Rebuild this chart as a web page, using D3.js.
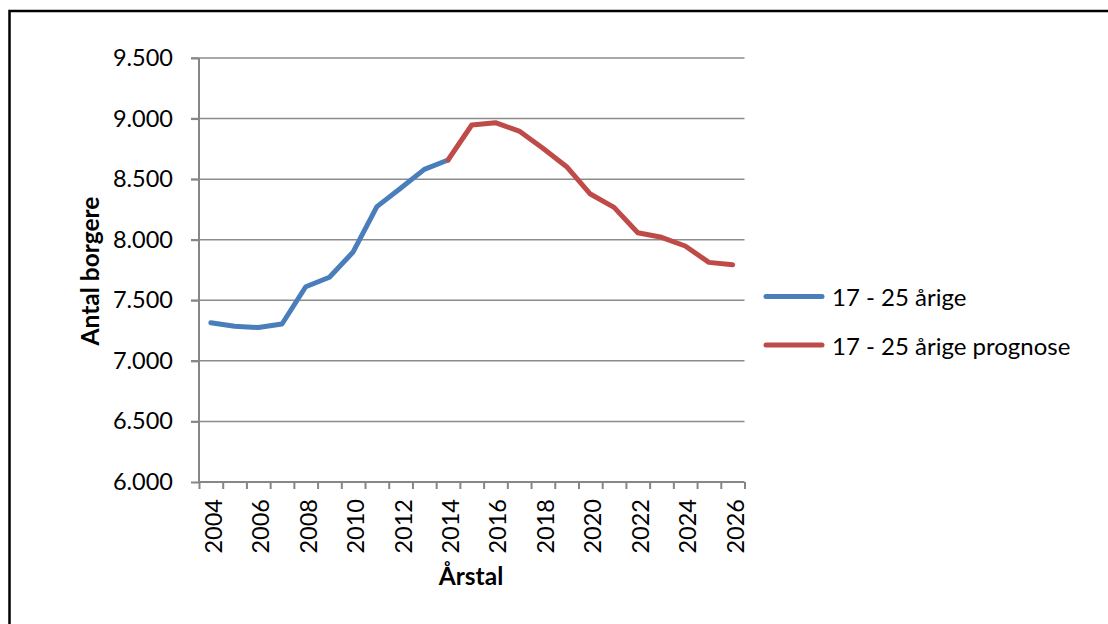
<!DOCTYPE html>
<html>
<head>
<meta charset="utf-8">
<script src="https://cdn.jsdelivr.net/npm/d3@7"></script>
<style>
  body { margin: 0; background: #fff; }
  text { font-family: Lato, "Open Sans", sans-serif; fill: #000; }
</style>
</head>
<body>
<div id="chart"></div>
<script>
"use strict";
// years on the x axis
var years = [2004, 2005, 2006, 2007, 2008, 2009, 2010, 2011, 2012, 2013, 2014, 2015,
  2016, 2017, 2018, 2019, 2020, 2021, 2022, 2023, 2024, 2025, 2026];

// observed values, 2004-2014
var actual = [7315, 7285, 7275, 7304, 7612, 7690, 7899, 8273, 8424, 8581, 8658];
var actualYears = years.slice(0, actual.length);

// forecast, starts at the last observed year so the line joins up
var forecast = [8658, 8947, 8966, 8897, 8755, 8603, 8377, 8267, 8058, 8020, 7948, 7813, 7794];
var forecastYears = years.slice(actual.length - 1);

var yTicks = [6000, 6500, 7000, 7500, 8000, 8500, 9000, 9500];
var labelYears = [2004, 2006, 2008, 2010, 2012, 2014, 2016, 2018, 2020, 2022, 2024, 2026];
var seriesNames = ["17 - 25 årige", "17 - 25 årige prognose"];
var colors = ["#4A7EBB", "#BE4B48"];

var w = 1108,
  h = 624;

var svg = d3.select("#chart").append("svg")
  .attr("width", w)
  .attr("height", h);

// outer frame, runs off the bottom and right edge like the original
svg.append("rect")
  .attr("x", 9.5).attr("y", 11)
  .attr("width", 1300).attr("height", 800)
  .attr("fill", "none")
  .attr("stroke", "#000")
  .attr("stroke-width", 2.5);

var x = d3.scaleLinear().domain([2003.5, 2026.5]).range([199, 744.5]);
var y = d3.scaleLinear().domain([6000, 9500]).range([482, 58]);

var loc = d3.formatLocale({ decimal: ",", thousands: ".", grouping: [3], currency: ["", " kr"] });
var fmt = loc.format(",.0f");

//gridlines
svg.append("g").selectAll("line")
  .data(yTicks.slice(1))
  .join("line")
  .attr("x1", 191).attr("x2", x.range()[1])
  .attr("y1", function(d) { return y(d); })
  .attr("y2", function(d) { return y(d); })
  .attr("stroke", "#8c8c8c")
  .attr("stroke-width", 1.5);

// y axis
var yAxis = svg.append("g")
  .attr("transform", "translate(" + x.range()[0] + ",0)")
  .call(d3.axisLeft(y).tickValues(yTicks).tickSize(8).tickPadding(18).tickFormat(fmt));

// x axis, ticks sit between categories
var boundaries = years.map(function(d) { return d - 0.5; }).concat([2026.5]);
var xAxis = svg.append("g")
  .attr("transform", "translate(0," + y.range()[0] + ")")
  .call(d3.axisBottom(x).tickValues(boundaries).tickSize(7).tickFormat(""));

[yAxis, xAxis].forEach(function(a) {
  a.select(".domain").attr("stroke", "#868686").attr("stroke-width", 2);
  a.selectAll(".tick line").attr("stroke", "#868686").attr("stroke-width", 2);
  a.selectAll("text").style("font-family", "Lato, sans-serif").attr("font-size", 23.5).attr("fill", "#000");
});
yAxis.select(".domain").attr("d", "M0," + y.range()[0] + "V" + y.range()[1]);
xAxis.select(".domain").attr("d", "M" + x.range()[0] + ",0H" + x.range()[1]);

// rotated year labels
svg.append("g").selectAll("text")
  .data(labelYears)
  .join("text")
  .attr("transform", function(d) { return "translate(" + (x(d) + 2) + ",499) rotate(-90)"; })
  .attr("text-anchor", "end")
  .attr("dominant-baseline", "central")
  .attr("font-size", 23.5)
  .text(function(d) { return d; });

// axis titles
svg.append("text")
  .attr("x", 471).attr("y", 585)
  .attr("text-anchor", "middle")
  .attr("font-size", 24.5)
  .attr("font-weight", "bold")
  .text("Årstal");

svg.append("text")
  .attr("transform", "translate(99,271) rotate(-90)")
  .attr("text-anchor", "middle")
  .attr("font-size", 24.5)
  .attr("font-weight", "bold")
  .text("Antal borgere");

// lines
var line = d3.line()
  .x(function(d) { return x(d[0]); })
  .y(function(d) { return y(d[1]); });

var series = [d3.zip(actualYears, actual), d3.zip(forecastYears, forecast)];

svg.append("g").selectAll("path")
  .data(series)
  .join("path")
  .attr("d", line)
  .attr("fill", "none")
  .attr("stroke", function(d, i) { return colors[i]; })
  .attr("stroke-width", 5)
  .attr("stroke-linecap", "round")
  .attr("stroke-linejoin", "round");

// legend
var legend = svg.append("g").selectAll("g")
  .data(seriesNames)
  .join("g")
  .attr("transform", function(d, i) { return "translate(766," + (296.5 + i * 48.5) + ")"; });

legend.append("line")
  .attr("x1", 0).attr("x2", 56)
  .attr("stroke", function(d, i) { return colors[i]; })
  .attr("stroke-width", 5)
  .attr("stroke-linecap", "round");

legend.append("text")
  .attr("x", 66)
  .attr("dominant-baseline", "central")
  .attr("font-size", 24)
  .text(function(d) { return d; });
</script>
</body>
</html>
